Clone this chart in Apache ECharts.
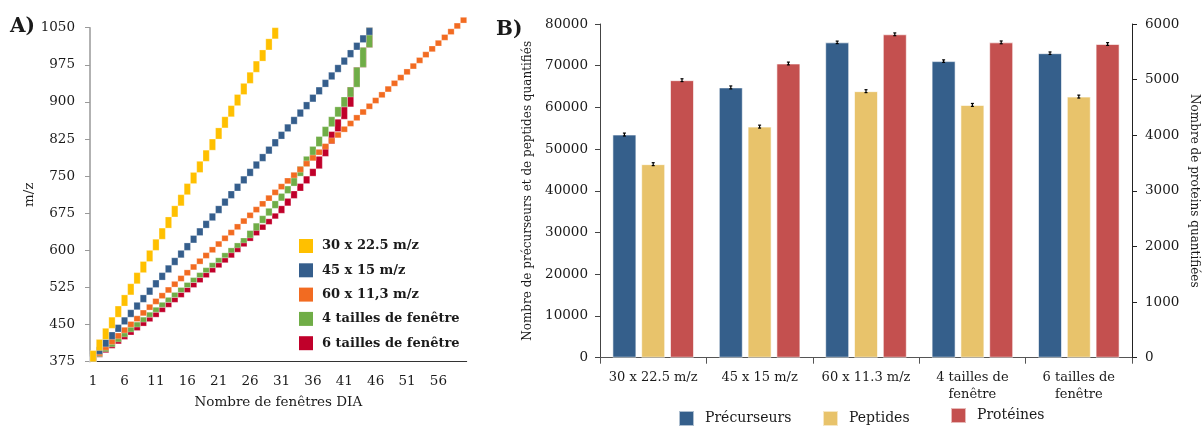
<!DOCTYPE html>
<html>
<head>
<meta charset="utf-8">
<script src="https://cdn.jsdelivr.net/npm/echarts@6/dist/echarts.min.js"></script>
<style>
  html, body { margin: 0; padding: 0; background: #fff; }
  #chart { width: 1203px; height: 428px; }
</style>
</head>
<body>
<div id="chart"></div>
<script>
// ---- Panel A: DIA isolation window schemes ----
const mzStart = 375;
const windowIndexLabels = Array.from({ length: 60 }, (_, i) => String(i + 1));
const mzTicks = { min: 375, max: 1050, step: 75 };
const schemeNames = ['30 x 22.5 m/z', '45 x 15 m/z', '60 x 11,3 m/z', '4 tailles de fenêtre', '6 tailles de fenêtre'];
const schemeColors = ['#FFC000', '#355E8C', '#F26B21', '#70AD47', '#C0002A'];
// each scheme as runs of [number of windows, window step in m/z]
const windows30 = [[30, 22.5]];
const windows45 = [[45, 15]];
const windows60 = [[60, 11.6]];
const windows4sizes = [[25, 10], [7, 15], [10, 20], [3, 40]];
const windows6sizes = [[10, 9], [12, 10], [8, 11.25], [6, 15], [5, 25], [4, 40]];

// ---- Panel B: quantified identifications ----
const conditions = ['30 x 22.5 m/z', '45 x 15 m/z', '60 x 11.3 m/z', '4 tailles de\nfenêtre', '6 tailles de\nfenêtre'];
const precursors = [53500, 64800, 75600, 71100, 73000];
const peptides = [46400, 55400, 63900, 60600, 62600];
const proteins = [4990, 5290, 5815, 5670, 5640];
const precursorsErr = [350, 350, 300, 300, 300];
const peptidesErr = [350, 350, 350, 350, 350];
const proteinsErr = [25, 25, 25, 25, 25];
const barNames = ['Précurseurs', 'Peptides', 'Protéines'];
const barColors = ['#355F8B', '#E8C36B', '#C4504F'];

const FONT = 'DejaVu Serif';
const TXT = '#1a1a1a';
const plain = v => String(v);

// expand runs into [windowIndex, low m/z, high m/z]
function windowBoxes(runs) {
  const boxes = [];
  let lo = mzStart, idx = 0;
  runs.forEach(([n, w]) => {
    for (let k = 0; k < n; k++) {
      boxes.push([idx, lo, lo + w]);
      lo += w;
      idx++;
    }
  });
  return boxes;
}

function windowSeries(name, color, runs, z) {
  return {
    name, type: 'custom', xAxisIndex: 0, yAxisIndex: 0, z,
    itemStyle: { color },
    encode: { x: 0, y: [1, 2] },
    data: windowBoxes(runs),
    renderItem(params, api) {
      const top = api.coord([api.value(0), api.value(2)]);
      const bot = api.coord([api.value(0), api.value(1)]);
      const bw = api.size([1, 0])[0];
      return {
        type: 'rect',
        shape: { x: top[0] - bw / 2, y: top[1], width: bw, height: bot[1] - top[1] },
        style: { fill: color, stroke: 'rgba(255,255,255,0.45)', lineWidth: 0.6 }
      };
    }
  };
}

const BAR_W = 24, BAR_GAP = 0.2;
const barOffsets = [-(BAR_W * (1 + BAR_GAP)), 0, BAR_W * (1 + BAR_GAP)];

function errorSeries(values, errs, k, yAxisIndex) {
  return {
    type: 'custom', xAxisIndex: 1, yAxisIndex, z: 5, silent: true,
    encode: { x: 0, y: 1 },
    data: values.map((v, i) => [i, v, errs[i]]),
    renderItem(params, api) {
      const c = api.value(0), v = api.value(1), e = api.value(2);
      const hi = api.coord([c, v + e]);
      const lo = api.coord([c, v - e]);
      const x = hi[0] + barOffsets[k];
      const st = { stroke: '#000', lineWidth: 1.2 };
      return {
        type: 'group', children: [
          { type: 'line', shape: { x1: x, y1: hi[1], x2: x, y2: lo[1] }, style: st },
          { type: 'line', shape: { x1: x - 1.5, y1: hi[1], x2: x + 1.5, y2: hi[1] }, style: st },
          { type: 'line', shape: { x1: x - 1.5, y1: lo[1], x2: x + 1.5, y2: lo[1] }, style: st }
        ]
      };
    }
  };
}

const chart = echarts.init(document.getElementById('chart'), null, { renderer: 'canvas' });

const legendB = barNames.map((n, i) => ({
  data: [n],
  left: [678, 822, 950][i],
  top: [410, 410, 407][i],
  padding: 0,
  icon: 'rect', itemWidth: 15, itemHeight: 15, itemGap: 0,
  textStyle: { fontFamily: FONT, fontSize: 14, color: TXT, padding: [0, 0, 0, 6] },
  selectedMode: false
}));

chart.setOption({
  animation: false,
  backgroundColor: '#fff',
  textStyle: { fontFamily: FONT },
  title: [
    { text: 'A)', left: 10, top: 17, padding: 0, textStyle: { fontFamily: FONT, fontWeight: 'bold', fontSize: 20, color: TXT } },
    { text: 'B)', left: 496, top: 20, padding: 0, textStyle: { fontFamily: FONT, fontWeight: 'bold', fontSize: 20, color: TXT } }
  ],
  legend: [
    {
      data: schemeNames, orient: 'vertical', left: 299, top: 239, padding: 0,
      icon: 'rect', itemWidth: 14, itemHeight: 14, itemGap: 10.3,
      textStyle: { fontFamily: FONT, fontWeight: 'bold', fontSize: 13, color: TXT, padding: [0, 0, 0, 4] },
      selectedMode: false
    },
    ...legendB
  ],
  grid: [
    { left: 90, top: 27.7, width: 376.7, height: 334 },
    { left: 600, top: 24, width: 532, height: 333.7 }
  ],
  xAxis: [
    {
      gridIndex: 0, type: 'category', data: windowIndexLabels, boundaryGap: true,
      axisLine: { lineStyle: { color: '#333', width: 1 } },
      axisTick: { show: false },
      axisLabel: { interval: 4, fontFamily: FONT, fontSize: 13.5, color: TXT, margin: 13 },
      name: 'Nombre de fenêtres DIA', nameLocation: 'middle', nameGap: 34,
      nameTextStyle: { fontFamily: FONT, fontSize: 13.5, color: TXT }
    },
    {
      gridIndex: 1, type: 'category', data: conditions, boundaryGap: true,
      axisLine: { lineStyle: { color: '#555', width: 1 } },
      axisTick: { show: true, length: 6, lineStyle: { color: '#555' } },
      axisLabel: { interval: 0, fontFamily: FONT, fontSize: 13, color: TXT, margin: 11, lineHeight: 17 }
    }
  ],
  yAxis: [
    {
      gridIndex: 0, type: 'value', min: mzTicks.min, max: mzTicks.max, interval: mzTicks.step,
      axisLine: { show: true, lineStyle: { color: '#999', width: 1.5 } },
      axisTick: { show: true, length: 5, lineStyle: { color: '#999' } },
      splitLine: { show: false },
      axisLabel: { formatter: plain, fontFamily: FONT, fontSize: 13.5, color: TXT, margin: 15 },
      name: 'm/z', nameLocation: 'middle', nameGap: 53,
      nameTextStyle: { fontFamily: FONT, fontSize: 13.5, color: TXT }
    },
    {
      gridIndex: 1, type: 'value', min: 0, max: 80000, interval: 10000, position: 'left',
      axisLine: { show: true, lineStyle: { color: '#444', width: 1 } },
      axisTick: { show: true, length: 5, lineStyle: { color: '#444' } },
      splitLine: { show: false },
      axisLabel: { formatter: plain, fontFamily: FONT, fontSize: 13.5, color: TXT, margin: 12 },
      name: 'Nombre de précurseurs et de peptides quantifiés', nameLocation: 'middle', nameGap: 66,
      nameTextStyle: { fontFamily: FONT, fontSize: 12, color: TXT }
    },
    {
      gridIndex: 1, type: 'value', min: 0, max: 6000, interval: 1000, position: 'right',
      axisLine: { show: true, lineStyle: { color: '#222', width: 1 } },
      axisTick: { show: true, length: 5, lineStyle: { color: '#222' } },
      splitLine: { show: false },
      axisLabel: { formatter: plain, fontFamily: FONT, fontSize: 13.5, color: TXT, margin: 13 },
      name: 'Nombre de proteins quantifiées', nameLocation: 'middle', nameGap: 56, nameRotate: -90,
      nameTextStyle: { fontFamily: FONT, fontSize: 12, color: TXT }
    }
  ],
  series: [
    // drawn bottom to top
    windowSeries(schemeNames[4], schemeColors[4], windows6sizes, 1),
    windowSeries(schemeNames[3], schemeColors[3], windows4sizes, 2),
    windowSeries(schemeNames[2], schemeColors[2], windows60, 3),
    windowSeries(schemeNames[1], schemeColors[1], windows45, 4),
    windowSeries(schemeNames[0], schemeColors[0], windows30, 5),
    {
      name: barNames[0], type: 'bar', xAxisIndex: 1, yAxisIndex: 1, data: precursors,
      barWidth: BAR_W, barGap: (BAR_GAP * 100) + '%',
      itemStyle: { color: barColors[0], borderColor: 'rgba(255,255,255,0.6)', borderWidth: 1 }
    },
    {
      name: barNames[1], type: 'bar', xAxisIndex: 1, yAxisIndex: 1, data: peptides,
      barWidth: BAR_W, barGap: (BAR_GAP * 100) + '%',
      itemStyle: { color: barColors[1], borderColor: 'rgba(255,255,255,0.6)', borderWidth: 1 }
    },
    {
      name: barNames[2], type: 'bar', xAxisIndex: 1, yAxisIndex: 2, data: proteins,
      barWidth: BAR_W, barGap: (BAR_GAP * 100) + '%',
      itemStyle: { color: barColors[2], borderColor: 'rgba(255,255,255,0.6)', borderWidth: 1 }
    },
    errorSeries(precursors, precursorsErr, 0, 1),
    errorSeries(peptides, peptidesErr, 1, 1),
    errorSeries(proteins, proteinsErr, 2, 2)
  ]
});
</script>
</body>
</html>
